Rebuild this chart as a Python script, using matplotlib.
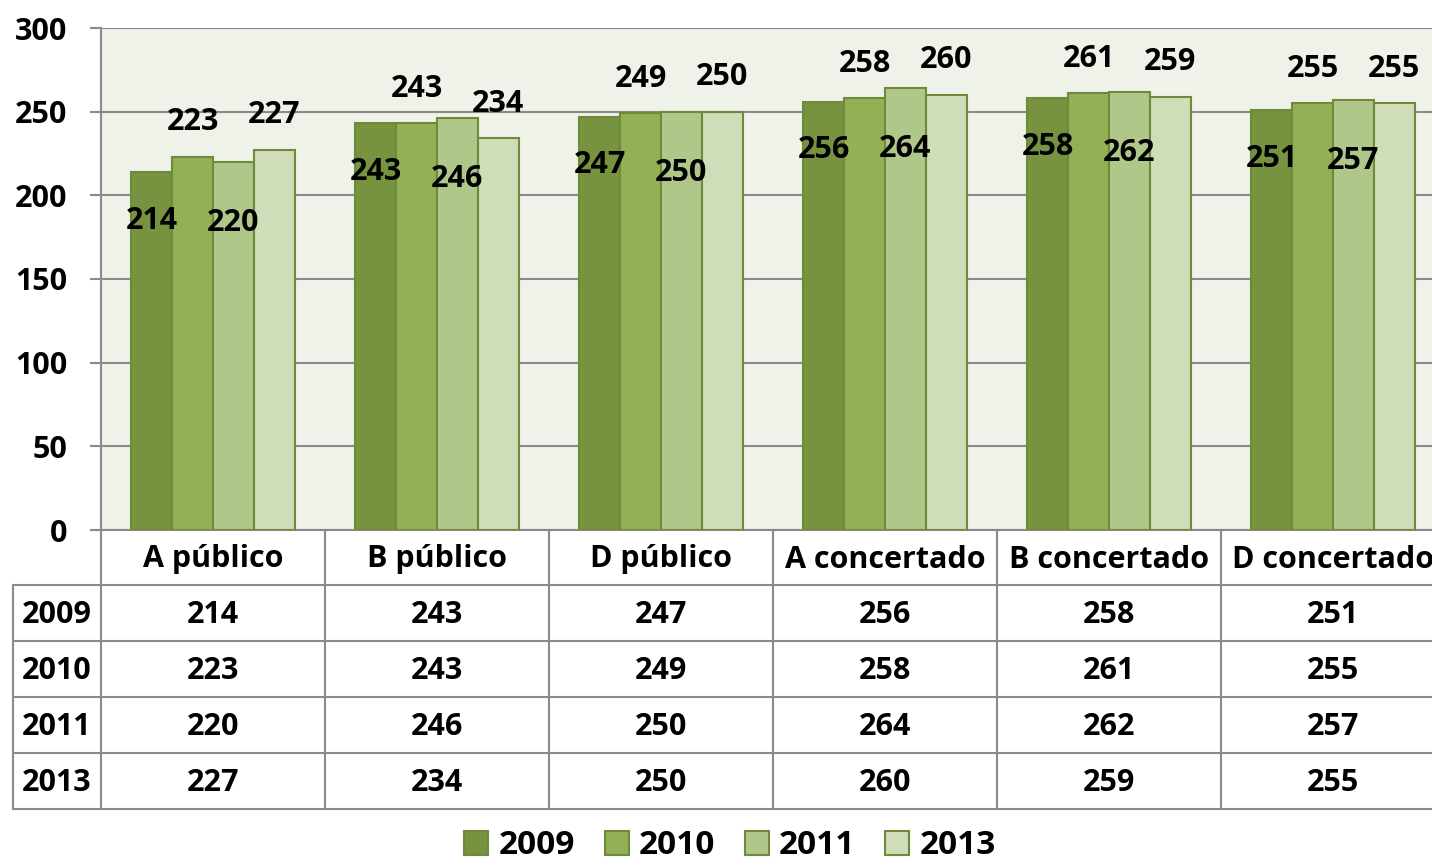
import numpy as np
import matplotlib.pyplot as plt
from matplotlib.lines import Line2D
from matplotlib.patches import Patch

# Datos
categorias = ['A público', 'B público', 'D público', 'A concertado', 'B concertado', 'D concertado']
anios = ['2009', '2010', '2011', '2013']
v2009 = [214, 243, 247, 256, 258, 251]
v2010 = [223, 243, 249, 258, 261, 255]
v2011 = [220, 246, 250, 264, 262, 257]
v2013 = [227, 234, 250, 260, 259, 255]
series = [v2009, v2010, v2011, v2013]

colores = ['#78933f', '#92b054', '#afc889', '#cfddb9']
borde = '#6f8a3a'
gris = '#8a8a8a'
# desplazamiento de etiquetas (puntos): arriba o dentro de la barra
desp_etiqueta = [-35, 25, -44, 25]

plt.rcParams['font.family'] = ['Open Sans', 'DejaVu Sans']
plt.rcParams['font.weight'] = 'bold'
fs = 22

W, H = 1432, 865
fig = plt.figure(figsize=(W / 100, H / 100), dpi=100)

# area del grafico en pixeles
x0, x1 = 101, 1445
ytop, ybot = 28, 530
ax = fig.add_axes([x0 / W, 1 - ybot / H, (x1 - x0) / W, (ybot - ytop) / H])
ax.set_facecolor('#eff2e9')

x = np.arange(len(categorias))
ancho = 0.182
for i, vals in enumerate(series):
    pos = x + (i - 1.5) * ancho
    ax.bar(pos, vals, width=ancho, color=colores[i], edgecolor=borde,
           linewidth=1.5, zorder=3, label=anios[i])
    for px, v in zip(pos, vals):
        ax.annotate(str(v), (px, v), xytext=(0, desp_etiqueta[i]),
                    textcoords='offset points', ha='center', va='center',
                    fontsize=fs, fontweight='bold', zorder=4)

ax.set_xlim(-0.5, len(categorias) - 0.5)
ax.set_ylim(0, 300)
ax.set_yticks([0, 50, 100, 150, 200, 250, 300])
ax.set_xticks([])
ax.yaxis.grid(True, color=gris, linewidth=1.5, zorder=0)
ax.set_axisbelow(True)
ax.tick_params(axis='y', length=8, width=1.5, color=gris, pad=16, labelsize=fs)
for lab in ax.get_yticklabels():
    lab.set_fontweight('bold')
for s in ['top', 'right']:
    ax.spines[s].set_visible(False)
for s in ['left', 'bottom']:
    ax.spines[s].set_color(gris)
    ax.spines[s].set_linewidth(1.5)

# Tabla de datos debajo del grafico
def fy(py):
    return 1 - py / H

def fx(px):
    return px / W

filas_y = [530, 585, 641, 697, 753, 809]
xleft = 13
bordes_x = [ax.transData.transform((c - 0.5, 0))[0] for c in range(len(categorias) + 1)]

def linea(xa, xb, ya, yb):
    fig.add_artist(Line2D([fx(xa), fx(xb)], [fy(ya), fy(yb)], color=gris,
                          linewidth=1.5, transform=fig.transFigure))

for bx in bordes_x:
    linea(bx, bx, filas_y[0], filas_y[-1])
for yy in filas_y[1:]:
    linea(xleft, W + 20, yy, yy)
linea(xleft, xleft, filas_y[1], filas_y[-1])

centros = [(bordes_x[k] + bordes_x[k + 1]) / 2 for k in range(len(categorias))]
for k, cat in enumerate(categorias):
    fig.text(fx(centros[k]), fy((filas_y[0] + filas_y[1]) / 2 + 2), cat,
             ha='center', va='center', fontsize=fs, fontweight='bold')
for r, vals in enumerate(series):
    yc = (filas_y[r + 1] + filas_y[r + 2]) / 2 + 2
    fig.text(fx((xleft + x0) / 2), fy(yc), anios[r], ha='center', va='center',
             fontsize=fs, fontweight='bold')
    for k, v in enumerate(vals):
        fig.text(fx(centros[k]), fy(yc), str(v), ha='center', va='center',
                 fontsize=fs, fontweight='bold')

# Leyenda
handles = [Patch(facecolor=colores[i], edgecolor=borde, linewidth=1.5, label=anios[i])
           for i in range(len(anios))]
fig.legend(handles=handles, loc='center', bbox_to_anchor=(fx(730), fy(846)),
           ncol=4, frameon=False, handlelength=0.72, handleheight=0.72,
           handletextpad=0.3, columnspacing=0.9, borderpad=0.1,
           prop={'weight': 'bold', 'size': 24})

fig.savefig('out.png', dpi=100)
